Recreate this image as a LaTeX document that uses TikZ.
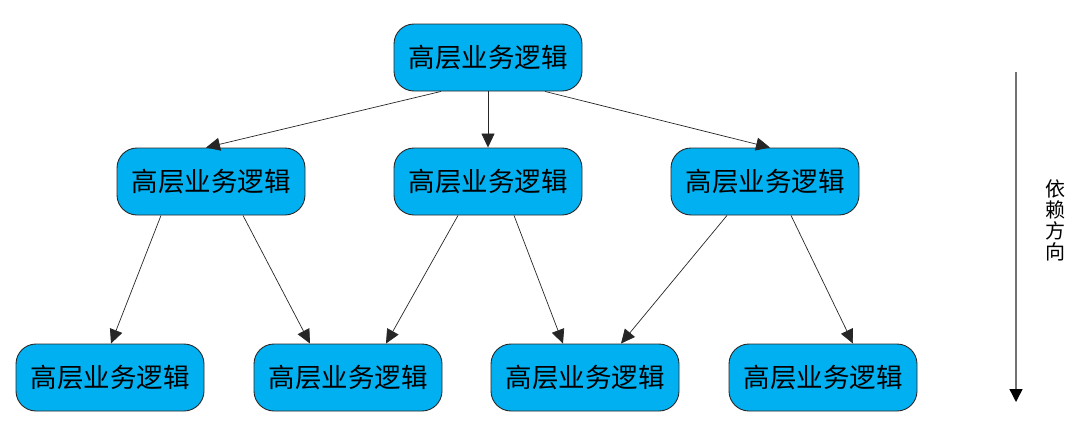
\documentclass[tikz,border=0pt]{standalone}
\usepackage{fontspec}
\newfontfamily\cjk{Noto Sans CJK SC}
\usetikzlibrary{arrows.meta}
\definecolor{boxblue}{RGB}{0,176,240}
\definecolor{boxline}{RGB}{40,40,40}
\tikzset{
  biz/.style={draw=boxline, line width=0.9pt, fill=boxblue, rounded corners=20pt,
    minimum width=188pt, minimum height=67pt, inner sep=0pt,
    font=\cjk\fontsize{26.5}{30}\selectfont, text=black},
  dep/.style={draw=black!85, line width=0.7pt, -{Triangle[length=14pt,width=13pt]}},
  dirarrow/.style={draw=black!55, line width=1.4pt, -{Triangle[length=13pt,width=13pt,color=black]}},
  dirlabel/.style={font=\cjk\fontsize{20}{21}\selectfont, align=center, inner sep=0pt, text=black}
}
\begin{document}
\begin{tikzpicture}[x=1pt,y=-1pt]
\useasboundingbox (0,0) rectangle (1081,431);
\node[biz] (top) at (488,57.5) {高层业务逻辑};
\node[biz] (m1) at (211,181.5) {高层业务逻辑};
\node[biz] (m2) at (488,181.5) {高层业务逻辑};
\node[biz] (m3) at (765,181.5) {高层业务逻辑};
\node[biz] (b1) at (110,377.5) {高层业务逻辑};
\node[biz] (b2) at (348,377.5) {高层业务逻辑};
\node[biz] (b3) at (585,377.5) {高层业务逻辑};
\node[biz] (b4) at (823,377.5) {高层业务逻辑};
\draw[dep] ([xshift=-47pt]top.south) -- ([xshift=-5pt]m1.north);
\draw[dep] (top.south) -- (m2.north);
\draw[dep] ([xshift=57pt]top.south) -- ([xshift=5pt]m3.north);
\draw[dep] ([xshift=-50pt]m1.south) -- ([xshift=1pt]b1.north);
\draw[dep] ([xshift=32pt]m1.south) -- ([xshift=-38pt]b2.north);
\draw[dep] ([xshift=-30pt]m2.south) -- ([xshift=38pt]b2.north);
\draw[dep] ([xshift=26pt]m2.south) -- ([xshift=-22pt]b3.north);
\draw[dep] ([xshift=-38pt]m3.south) -- ([xshift=36pt]b3.north);
\draw[dep] ([xshift=26pt]m3.south) -- ([xshift=30pt]b4.north);
\coordinate (dirstart) at (1016,72);
\coordinate (dirend) at (1016,402);
\draw[dirarrow] (dirstart) -- (dirend);
\node[dirlabel] (dirtext) at (1055,220) {依\\赖\\方\\向};
\end{tikzpicture}
\end{document}
